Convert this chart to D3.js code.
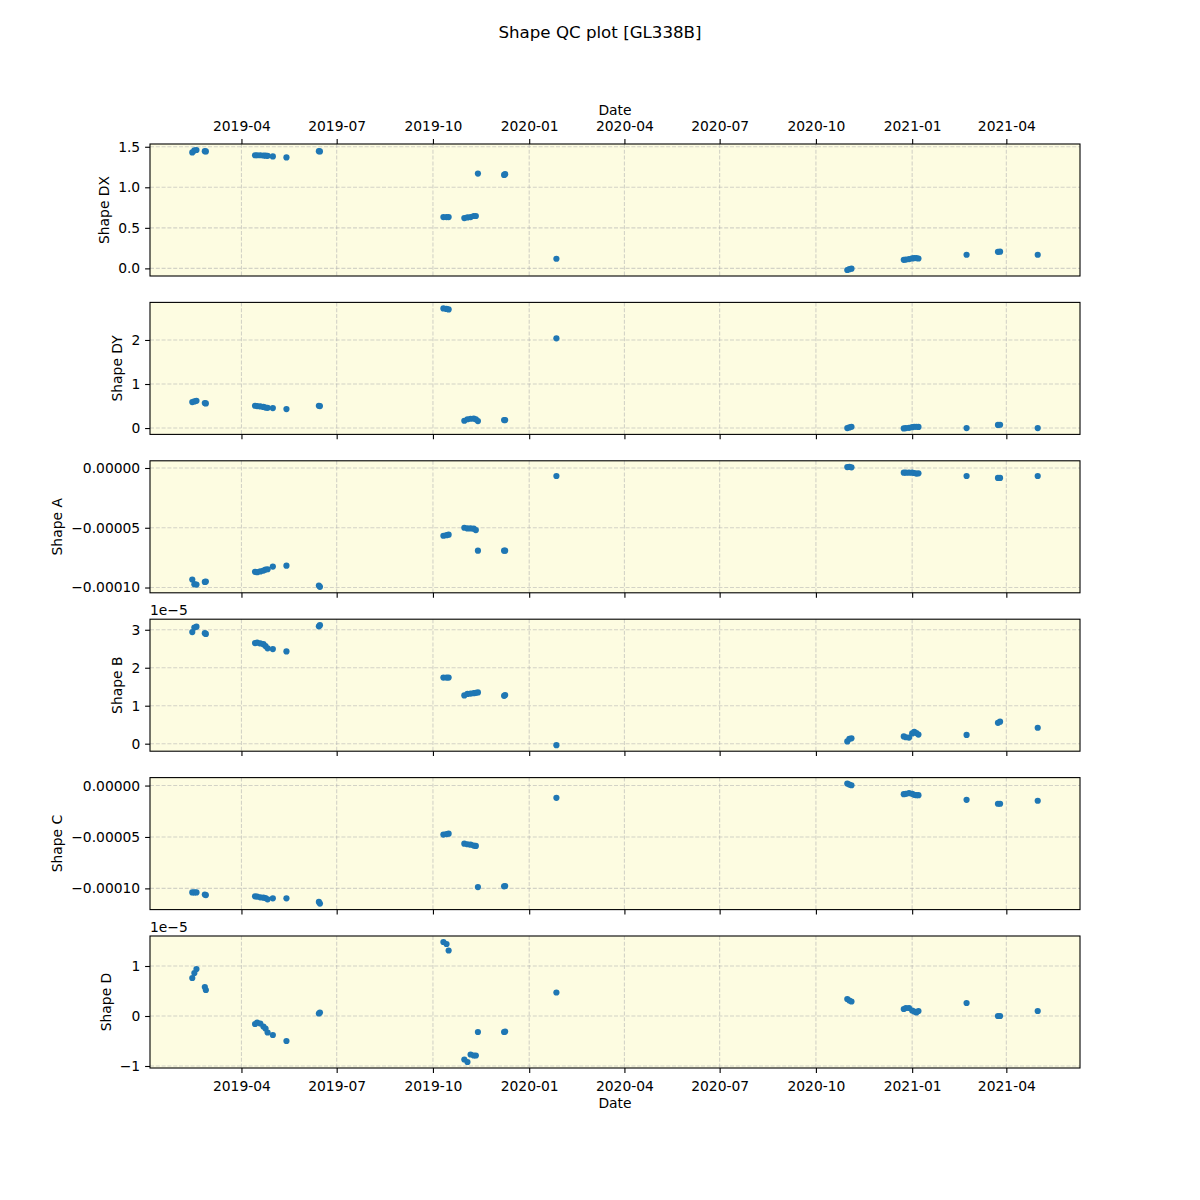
<!DOCTYPE html>
<html><head><meta charset="utf-8">
<script src="https://cdn.jsdelivr.net/npm/d3@7"></script>
<style>body{margin:0;background:#fff} text{font-family:"DejaVu Sans",sans-serif}</style>
</head><body><svg id="c" width="1200" height="1200"></svg>
<script>
const dates = ["2019-02-13","2019-02-15","2019-02-17","2019-02-25","2019-02-26",
"2019-04-14","2019-04-16","2019-04-19","2019-04-22","2019-04-24","2019-04-26",
"2019-05-01","2019-05-14","2019-06-14","2019-06-15",
"2019-10-11","2019-10-14","2019-10-16","2019-10-31","2019-11-03","2019-11-06","2019-11-09","2019-11-11","2019-11-13",
"2019-12-08","2019-12-09","2020-01-27",
"2020-10-31","2020-11-02","2020-11-04",
"2020-12-24","2020-12-26","2020-12-29","2021-01-01","2021-01-03","2021-01-05","2021-01-07",
"2021-02-22","2021-03-24","2021-03-26","2021-05-01"];

const shapeDX = [1.43,1.455,1.46,1.445,1.443,
1.395,1.395,1.395,1.392,1.39,1.388,
1.381,1.369,1.445,1.443,
0.633,0.633,0.633,0.621,0.628,0.633,0.646,0.646,1.169,
1.152,1.162,0.119,
-0.02,-0.01,-0.004,
0.106,0.108,0.115,0.123,0.127,0.127,0.122,
0.168,0.204,0.206,0.168];

const shapeDY = [0.589,0.605,0.619,0.566,0.56,
0.506,0.5,0.49,0.48,0.465,0.46,
0.453,0.43,0.506,0.5,
2.717,2.705,2.694,0.166,0.2,0.211,0.215,0.2,0.158,
0.181,0.181,2.038,
0.0,0.015,0.03,
-0.008,0.0,0.005,0.02,0.03,0.03,0.025,
0.0,0.07,0.075,0.0];

const shapeA = [-9.33e-5,-9.72e-5,-9.75e-5,-9.53e-5,-9.5e-5,
-8.69e-5,-8.72e-5,-8.65e-5,-8.58e-5,-8.5e-5,-8.47e-5,
-8.25e-5,-8.17e-5,-9.83e-5,-9.94e-5,
-5.67e-5,-5.62e-5,-5.58e-5,-5.0e-5,-5.06e-5,-5.06e-5,-5.08e-5,-5.19e-5,-6.92e-5,
-6.92e-5,-6.92e-5,-0.67e-5,
0.08e-5,0.1e-5,0.06e-5,
-0.39e-5,-0.39e-5,-0.39e-5,-0.39e-5,-0.42e-5,-0.47e-5,-0.45e-5,
-0.67e-5,-0.83e-5,-0.83e-5,-0.67e-5];

const shapeB = [2.94e-5,3.06e-5,3.08e-5,2.91e-5,2.89e-5,
2.65e-5,2.66e-5,2.64e-5,2.62e-5,2.57e-5,2.51e-5,
2.49e-5,2.43e-5,3.09e-5,3.12e-5,
1.74e-5,1.74e-5,1.74e-5,1.27e-5,1.31e-5,1.32e-5,1.33e-5,1.34e-5,1.35e-5,
1.26e-5,1.28e-5,-0.04e-5,
0.06e-5,0.13e-5,0.14e-5,
0.19e-5,0.17e-5,0.16e-5,0.27e-5,0.31e-5,0.28e-5,0.24e-5,
0.23e-5,0.55e-5,0.58e-5,0.42e-5];

const shapeC = [-10.39e-5,-10.39e-5,-10.39e-5,-10.6e-5,-10.65e-5,
-10.77e-5,-10.8e-5,-10.87e-5,-10.9e-5,-10.94e-5,-11.06e-5,
-10.97e-5,-10.97e-5,-11.32e-5,-11.48e-5,
-4.77e-5,-4.72e-5,-4.68e-5,-5.65e-5,-5.71e-5,-5.75e-5,-5.84e-5,-5.87e-5,-9.87e-5,
-9.8e-5,-9.77e-5,-1.19e-5,
0.19e-5,0.1e-5,0.03e-5,
-0.84e-5,-0.8e-5,-0.74e-5,-0.8e-5,-0.9e-5,-0.94e-5,-0.94e-5,
-1.39e-5,-1.77e-5,-1.77e-5,-1.48e-5];

const shapeD = [0.76e-5,0.86e-5,0.94e-5,0.58e-5,0.52e-5,
-0.16e-5,-0.13e-5,-0.15e-5,-0.21e-5,-0.25e-5,-0.33e-5,
-0.38e-5,-0.5e-5,0.05e-5,0.07e-5,
1.48e-5,1.44e-5,1.31e-5,-0.87e-5,-0.92e-5,-0.77e-5,-0.79e-5,-0.79e-5,-0.32e-5,
-0.32e-5,-0.31e-5,0.47e-5,
0.34e-5,0.31e-5,0.29e-5,
0.14e-5,0.16e-5,0.16e-5,0.11e-5,0.09e-5,0.07e-5,0.10e-5,
0.26e-5,0.0,0.0,0.10e-5];

const panelNames = ["Shape DX","Shape DY","Shape A","Shape B","Shape C","Shape D"];
const panelValues = [shapeDX, shapeDY, shapeA, shapeB, shapeC, shapeD];
const yTicks = [[0,0.5,1.0,1.5],[0,1,2],[0,-5e-5,-10e-5],[0,1e-5,2e-5,3e-5],[0,-5e-5,-10e-5],[-1e-5,0,1e-5]];
const yFormats = [d3.format(".1f"), d3.format("d"), d3.format(".5f"), v=>d3.format("d")(Math.round(v/1e-5)), d3.format(".5f"), v=>d3.format("d")(Math.round(v/1e-5))];
const offsetTexts = [null,null,null,"1e\u22125",null,"1e\u22125"];
const xTickDates = ["2019-04-01","2019-07-01","2019-10-01","2020-01-01","2020-04-01","2020-07-01","2020-10-01","2021-01-01","2021-04-01"];
const title = "Shape QC plot [GL338B]";

const parse = d3.timeParse("%Y-%m-%d");
const X = dates.map(parse);
const svg = d3.select("#c");
const L = 150, R = 1080, T = 144, H = 132, GAP = 26.4;
const FS = 13.89;

const xmin = d3.min(X), xmax = d3.max(X);
const xspan = xmax - xmin;
const x = d3.scaleTime().domain([new Date(+xmin - 0.05*xspan), new Date(+xmax + 0.05*xspan)]).range([L, R]);
const xtv = xTickDates.map(parse);
const xfmt = d3.timeFormat("%Y-%m");

svg.append("text").attr("x", 600).attr("y", 38).attr("text-anchor","middle")
  .attr("font-size", 16.67).text(title);

panelValues.forEach((vals, i) => {
  const top = T + i*(H+GAP), bot = top + H;
  const lo = d3.min(vals), hi = d3.max(vals), sp = hi - lo;
  const y = d3.scaleLinear().domain([lo - 0.05*sp, hi + 0.05*sp]).range([bot, top]);
  const g = svg.append("g");
  g.append("rect").attr("x", L).attr("y", top).attr("width", R-L).attr("height", H).attr("fill", "#fdfce1");
  // grid
  g.selectAll(".gx").data(xtv).join("line")
    .attr("x1", d=>x(d)).attr("x2", d=>x(d)).attr("y1", top).attr("y2", bot)
    .attr("stroke", "#b0b0b0").attr("stroke-opacity", 0.55).attr("stroke-width", 1.1).attr("stroke-dasharray", "4,1.8");
  g.selectAll(".gy").data(yTicks[i]).join("line")
    .attr("x1", L).attr("x2", R).attr("y1", d=>y(d)).attr("y2", d=>y(d))
    .attr("stroke", "#b0b0b0").attr("stroke-opacity", 0.55).attr("stroke-width", 1.1).attr("stroke-dasharray", "4,1.8");
  // points
  g.selectAll("circle").data(vals.map((v,k)=>[X[k], v])).join("circle")
    .attr("cx", d=>x(d[0])).attr("cy", d=>y(d[1])).attr("r", 3.1).attr("fill", "#1f77b4");
  // frame
  g.append("rect").attr("x", L).attr("y", top).attr("width", R-L).attr("height", H)
    .attr("fill", "none").attr("stroke", "#000").attr("stroke-width", 1.1);
  // y axis
  const ya = g.append("g").attr("transform", `translate(${L},0)`)
    .call(d3.axisLeft(y).tickValues(yTicks[i]).tickFormat(yFormats[i]).tickSize(4.9).tickPadding(4.9));
  ya.select(".domain").remove();
  ya.selectAll("line").attr("stroke-width", 1.1);
  ya.selectAll("text").attr("font-size", FS).attr("font-family", "DejaVu Sans");
  const bb = ya.node().getBBox();
  const lx = L + bb.x - 5.6 - 3.5;
  g.append("text").attr("transform", `translate(${lx},${(top+bot)/2}) rotate(-90)`)
    .attr("text-anchor","middle").attr("font-size", FS).text(panelNames[i]);
  if (offsetTexts[i]) {
    g.append("text").attr("x", L).attr("y", top - 4).attr("font-size", FS).text(offsetTexts[i]);
  }
  // x axis
  let xa;
  if (i === 0) {
    xa = g.append("g").attr("transform", `translate(0,${top})`)
      .call(d3.axisTop(x).tickValues(xtv).tickFormat(xfmt).tickSize(4.9).tickPadding(8.5));
    g.append("text").attr("x", (L+R)/2).attr("y", 115).attr("text-anchor","middle").attr("font-size", FS).text("Date");
  } else if (i === 5) {
    xa = g.append("g").attr("transform", `translate(0,${bot})`)
      .call(d3.axisBottom(x).tickValues(xtv).tickFormat(xfmt).tickSize(4.9).tickPadding(8.5));
    g.append("text").attr("x", (L+R)/2).attr("y", bot + 40).attr("text-anchor","middle").attr("font-size", FS).text("Date");
  } else {
    xa = g.append("g").attr("transform", `translate(0,${bot})`)
      .call(d3.axisBottom(x).tickValues(xtv).tickFormat("").tickSize(4.9));
  }
  xa.select(".domain").remove();
  xa.selectAll("line").attr("stroke-width", 1.1);
  xa.selectAll("text").attr("font-size", FS).attr("font-family", "DejaVu Sans");
});
</script></body></html>
